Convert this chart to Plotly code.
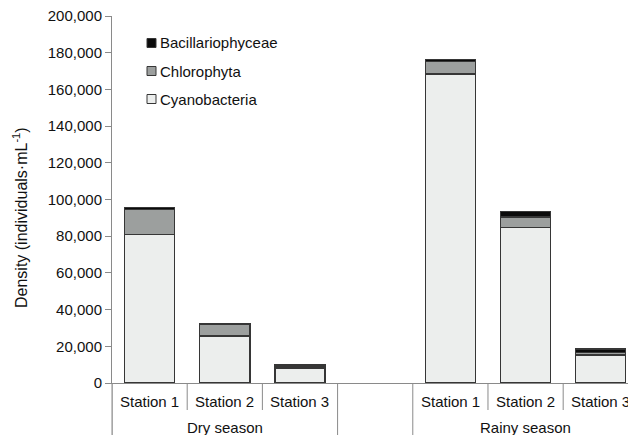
import plotly.graph_objects as go

# Phytoplankton density by station and season
seasons = ["Dry season", "Rainy season"]
stations = ["Station 1", "Station 2", "Station 3"]
groups = ["Cyanobacteria", "Chlorophyta", "Bacillariophyceae"]

# values ordered: dry S1, S2, S3, rainy S1, S2, S3
cyanobacteria = [81000, 25700, 8200, 168300, 84800, 15200]
chlorophyta = [13600, 6200, 800, 7000, 5700, 1400]
bacillariophyceae = [1100, 300, 800, 1100, 3100, 1900]

y_ticks = list(range(0, 200001, 20000))

FONT = "Liberation Sans, Arial, sans-serif"
fills = {"Cyanobacteria": "#eceeed", "Chlorophyta": "#9c9f9e", "Bacillariophyceae": "#0b0b0b"}
OUTLINE = "#363636"
AXIS = "#8a8a8a"

# x position of each bar: one empty slot separates the seasons
n_st = len(stations)
xpos = [s * (n_st + 1) + j for s in range(len(seasons)) for j in range(n_st)]

series = {"Cyanobacteria": cyanobacteria, "Chlorophyta": chlorophyta,
          "Bacillariophyceae": bacillariophyceae}

fig = go.Figure()
for name in groups:
    fig.add_trace(go.Bar(
        x=xpos, y=series[name], name=name, width=0.665,
        marker=dict(color=fills[name], line=dict(color=OUTLINE, width=1.4)),
        showlegend=False,
    ))

plot_h = 435 - 16 - 52
below = -52 / plot_h

shapes = []
annotations = []
# category dividers under the axis
for s, season in enumerate(seasons):
    start = s * (n_st + 1)
    for j in range(n_st):
        annotations.append(dict(x=start + j, y=-18 / plot_h, xref="x", yref="paper",
                                text=stations[j], showarrow=False,
                                font=dict(family=FONT, size=15, color="#111"),
                                xanchor="center", yanchor="middle"))
        if j > 0:
            shapes.append(dict(type="line", xref="x", yref="paper",
                               x0=start + j - 0.5, x1=start + j - 0.5, y0=0, y1=-27 / plot_h,
                               line=dict(color=AXIS, width=1)))
    for edge in (start - 0.5, start + n_st - 0.5):
        shapes.append(dict(type="line", xref="x", yref="paper", x0=edge, x1=edge,
                           y0=0, y1=below, line=dict(color=AXIS, width=1)))
    annotations.append(dict(x=start + (n_st - 1) / 2, y=-44 / plot_h, xref="x", yref="paper",
                            text=season, showarrow=False,
                            font=dict(family=FONT, size=15, color="#111"),
                            xanchor="center", yanchor="middle"))

# y-axis line continued down through the label rows
shapes.append(dict(type="line", xref="paper", yref="paper", x0=0, x1=0, y0=0, y1=below,
                   line=dict(color=AXIS, width=1)))

# legend drawn as swatches with labels
leg_x0 = (147 - 112) / 516
leg_w = 9 / 516
for k, name in enumerate(reversed(groups)):
    yc = 1 - (43 + 28 * k - 16) / plot_h
    hh = 4.5 / plot_h
    shapes.append(dict(type="rect", xref="paper", yref="paper",
                       x0=leg_x0, x1=leg_x0 + leg_w, y0=yc - hh, y1=yc + hh,
                       fillcolor=fills[name], line=dict(color=OUTLINE, width=1)))
    annotations.append(dict(x=leg_x0 + leg_w + 2 / 516, y=yc, xref="paper", yref="paper",
                            text=name, showarrow=False, xanchor="left", yanchor="middle",
                            font=dict(family=FONT, size=15, color="#111")))

# y-axis title
annotations.append(dict(x=-(112 - 20) / 516, y=(383 - 218) / plot_h, xref="paper", yref="paper",
                        text="Density (individuals·mL<sup>-1</sup>)", textangle=-90,
                        showarrow=False, xanchor="center", yanchor="middle",
                        font=dict(family=FONT, size=16, color="#111")))

fig.update_layout(
    width=628, height=435,
    margin=dict(l=112, r=0, t=16, b=52, pad=0),
    barmode="stack",
    plot_bgcolor="white", paper_bgcolor="white",
    shapes=shapes, annotations=annotations,
    xaxis=dict(range=[-0.5, 6.362], showticklabels=False, ticks="", showgrid=False,
               zeroline=False, showline=True, linecolor=AXIS, linewidth=1),
    yaxis=dict(range=[0, 200000], tickvals=y_ticks, tickformat=",d",
               ticks="outside", ticklen=6, tickcolor=AXIS, showgrid=False, zeroline=False,
               showline=True, linecolor=AXIS, linewidth=1,
               tickfont=dict(family=FONT, size=15, color="#111")),
)

fig.write_html("out.html")
